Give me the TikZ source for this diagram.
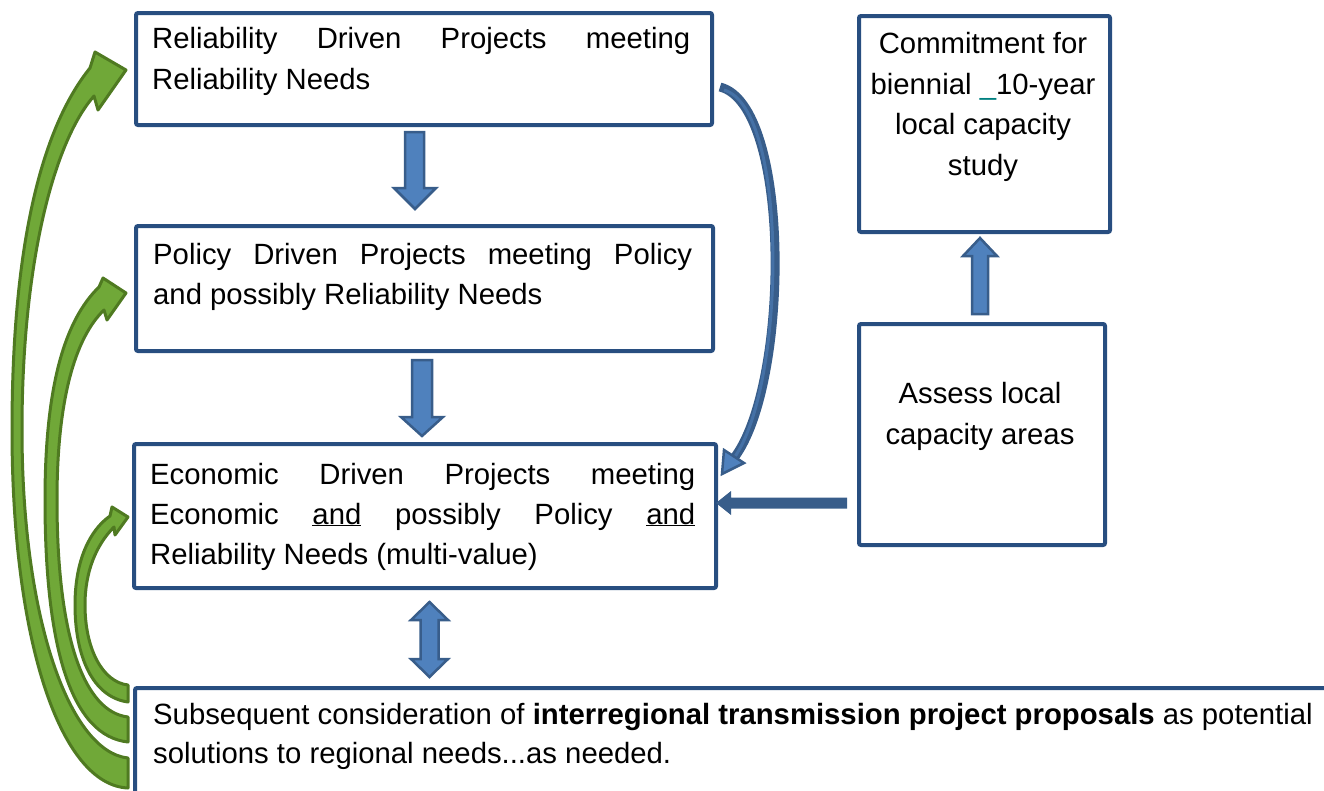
\documentclass[tikz,border=0pt]{standalone}
\usepackage{fontspec}
\setmainfont{Liberation Sans}
\usetikzlibrary{arrows.meta}
\definecolor{boxblue}{RGB}{40,78,128}
\definecolor{arrfill}{RGB}{79,129,189}
\definecolor{arrline}{RGB}{56,93,138}
\definecolor{gfill}{RGB}{112,168,56}
\definecolor{gline}{RGB}{79,122,33}
\definecolor{uscol}{RGB}{0,128,128}
\begin{document}
\begin{tikzpicture}[x=1pt,y=-1pt,
  box/.style={draw=boxblue, line width=4pt, rectangle, rounded corners=2pt, inner sep=0pt, anchor=north west},
  txt/.style={anchor=base west, inner sep=0pt, font=\fontsize{29.3}{40}\selectfont},
  ctxt/.style={anchor=base, inner sep=0pt, font=\fontsize{29.3}{40}\selectfont},
  blockarrow/.style={fill=arrfill, draw=arrline, line width=2.5pt, line join=miter},
  garrow/.style={fill=gfill, draw=gline, line width=3pt, line join=round}]
\useasboundingbox (0,0) rectangle (1324,790);
\clip (0,0) rectangle (1324,790);

% boxes
\node[box, minimum width=576pt, minimum height=112pt] (box1) at (134,11) {};
\node[box, minimum width=577pt, minimum height=125pt] (box2) at (134,224) {};
\node[box, minimum width=582pt, minimum height=144pt] (box3) at (132,442) {};
\node[box, minimum width=251pt, minimum height=216pt] (box4) at (857,14) {};
\node[box, minimum width=246pt, minimum height=221pt] (box5) at (857,322) {};
\node[box, minimum width=1250pt, minimum height=140pt] (box6) at (133,686) {};

% texts
\node[txt] (t1a) at (152,48) {\hbox to 538pt{Reliability\hfill Driven\hfill Projects\hfill meeting}};
\node[txt] (t1b) at (152,89) {Reliability Needs};
\node[txt] (t2a) at (153,264) {\hbox to 539pt{Policy\hfill Driven\hfill Projects\hfill meeting\hfill Policy}};
\node[txt] (t2b) at (153,304) {and possibly Reliability Needs};
\node[txt] (t3a) at (150,484) {\hbox to 545pt{Economic\hfill Driven\hfill Projects\hfill meeting}};
\node[txt] (t3b) at (150,524) {\hbox to 545pt{Economic\hfill \underline{and}\hfill possibly\hfill Policy\hfill \underline{and}}};
\node[txt] (t3c) at (150,564) {Reliability Needs (multi-value)};
\node[ctxt] (t4a) at (983,53) {Commitment for};
\node[ctxt] (t4b) at (983,94) {biennial {\color{uscol}\_}10-year};
\node[ctxt] (t4c) at (983,134) {local capacity};
\node[ctxt] (t4d) at (983,175) {study};
\node[ctxt] (t5a) at (980,403) {Assess local};
\node[ctxt] (t5b) at (980,444) {capacity areas};
\node[txt] (t6a) at (153,724) {Subsequent consideration of \textbf{interregional transmission project proposals} as potential};
\node[txt] (t6b) at (153,763) {solutions to regional needs...as needed.};

% block arrows (blue)
\coordinate (a1s) at (415,132); \coordinate (a1e) at (415,209);
\draw[blockarrow] (405,132) -- (424,132) -- (424,188) -- (436,188) -- (a1e) -- (394,188) -- (405,188) -- cycle;
\coordinate (a2s) at (422,360); \coordinate (a2e) at (422,436);
\draw[blockarrow] (412,360) -- (432,360) -- (432,417) -- (443,417) -- (a2e) -- (401,417) -- (412,417) -- cycle;
\coordinate (a3s) at (429.5,602); \coordinate (a3e) at (429.5,677);
\draw[blockarrow] (a3s) -- (448,620) -- (438.5,620) -- (438.5,659) -- (448,659) -- (a3e) -- (411,659) -- (420.5,659) -- (420.5,620) -- (411,620) -- cycle;
\coordinate (a4s) at (980,314); \coordinate (a4e) at (980,238);
\draw[blockarrow] (972,314) -- (988,314) -- (988,256) -- (997,256) -- (a4e) -- (963,256) -- (972,256) -- cycle;
\coordinate (a5s) at (847,503); \coordinate (a5e) at (716,503);
\fill[arrline] (847,497.5) -- (731,497.5) -- (731,491) -- (a5e) -- (731,515) -- (731,508.5) -- (847,508.5) -- cycle;

% curved blue arrow from box1 to box3
\draw[line width=9pt, arrline] (720,87) .. controls (792,105) and (790,385) .. (734,458);
\draw[line width=3pt, arrline!45!arrfill] (724,90) .. controls (789,109) and (786,385) .. (734,458);
\draw[fill=arrfill, draw=arrline, line width=2.5pt, line join=miter] (724,450) -- (744,463) -- (722,474) -- cycle;

% green curved arrows from box6
\draw[garrow] (128,788) .. controls (60,785) and (12,640) .. (12,430)
   .. controls (12,250) and (40,130) .. (90,68)
   -- (95,52) -- (126,70) -- (98,110) -- (94,96)
   .. controls (55,140) and (22,260) .. (22,430)
   .. controls (22,620) and (70,752) .. (128,758) -- cycle;
\draw[garrow] (128,742) .. controls (72,736) and (45,650) .. (45,500)
   .. controls (45,385) and (65,320) .. (99,287)
   -- (103,278) -- (126,293) -- (107,320) -- (104,310)
   .. controls (75,338) and (57,400) .. (57,500)
   .. controls (57,640) and (85,712) .. (128,717) -- cycle;
\draw[garrow] (128,702) .. controls (92,697) and (75,655) .. (75,605)
   .. controls (75,560) and (90,530) .. (110,516)
   -- (112,507) -- (128,517) -- (115,535) -- (114,527)
   .. controls (96,545) and (85,572) .. (85,605)
   .. controls (85,648) and (102,682) .. (128,685) -- cycle;
\end{tikzpicture}
\end{document}
